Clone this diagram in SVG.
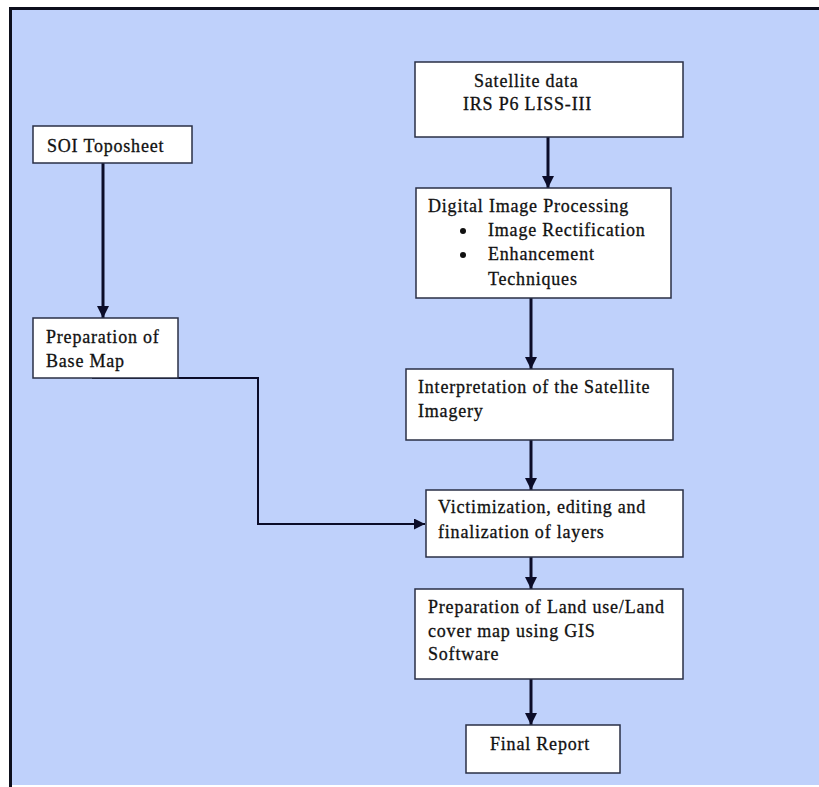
<svg xmlns="http://www.w3.org/2000/svg" width="819" height="787" viewBox="0 0 819 787">
<defs>
<style>
.box{fill:#ffffff;stroke:#2a2f45;stroke-width:1.5}
.t{font-family:"Liberation Serif","Times New Roman",serif;font-size:18px;letter-spacing:0.8px;fill:#111111;stroke:#111111;stroke-width:0.3}
.c{fill:none;stroke:#0b0c28;stroke-width:3}
.c2{fill:none;stroke:#0b0c28;stroke-width:2}
</style>
<marker id="ah" viewBox="0 0 10 10" refX="10" refY="5" markerWidth="4" markerHeight="4" markerUnits="strokeWidth" orient="auto">
<path d="M0,0 L10,5 L0,10 z" fill="#0b0c28"/>
</marker>
<marker id="ah2" viewBox="0 0 10 10" refX="10" refY="5" markerWidth="5.5" markerHeight="5.5" markerUnits="strokeWidth" orient="auto">
<path d="M0,0 L10,5 L0,10 z" fill="#0b0c28"/>
</marker>
</defs>
<rect x="0" y="0" width="819" height="787" fill="#ffffff"/>
<rect x="10" y="9" width="809" height="776" fill="#bfd1fb"/>
<path d="M10.5,787 L10.5,8.5 L819,8.5" fill="none" stroke="#0d0f1c" stroke-width="3"/>
<g id="connectors">
<line class="c" x1="548" y1="137" x2="548" y2="188" marker-end="url(#ah)"/>
<line class="c" x1="103" y1="163" x2="103" y2="318" marker-end="url(#ah)"/>
<line class="c" x1="531" y1="298" x2="531" y2="369" marker-end="url(#ah)"/>
<line class="c" x1="531" y1="440" x2="531" y2="490" marker-end="url(#ah)"/>
<path class="c2" d="M92,378 L258,378 L258,524 L425,524" marker-end="url(#ah2)"/>
<line class="c" x1="531" y1="557" x2="531" y2="589" marker-end="url(#ah)"/>
<line class="c" x1="531" y1="679" x2="531" y2="725" marker-end="url(#ah)"/>
</g>
<g id="n-satellite">
<rect class="box" x="415" y="62" width="268" height="75"/>
<text class="t" x="474" y="87">Satellite data</text>
<text class="t" x="463" y="110">IRS P6 LISS-III</text>
</g>
<g id="n-dip">
<rect class="box" x="416" y="188" width="255" height="110"/>
<text class="t" x="428" y="212">Digital Image Processing</text>
<circle cx="463" cy="231" r="3" fill="#111111"/>
<text class="t" x="488" y="236">Image Rectification</text>
<circle cx="463" cy="255" r="3" fill="#111111"/>
<text class="t" x="488" y="260">Enhancement</text>
<text class="t" x="488" y="285">Techniques</text>
</g>
<g id="n-soi">
<rect class="box" x="33" y="126" width="159" height="37"/>
<text class="t" x="47" y="152">SOI Toposheet</text>
</g>
<g id="n-basemap">
<rect class="box" x="33" y="318" width="145" height="60"/>
<text class="t" x="46" y="343">Preparation of</text>
<text class="t" x="46" y="367">Base Map</text>
</g>
<g id="n-interp">
<rect class="box" x="406" y="369" width="267" height="71"/>
<text class="t" x="418" y="393">Interpretation of the Satellite</text>
<text class="t" x="418" y="417">Imagery</text>
</g>
<g id="n-victim">
<rect class="box" x="426" y="490" width="257" height="67"/>
<text class="t" x="438" y="513">Victimization, editing and</text>
<text class="t" x="438" y="538">finalization of layers</text>
</g>
<g id="n-landuse">
<rect class="box" x="415" y="589" width="268" height="90"/>
<text class="t" x="428" y="613">Preparation of Land use/Land</text>
<text class="t" x="428" y="637">cover map using GIS</text>
<text class="t" x="428" y="660">Software</text>
</g>
<g id="n-final">
<rect class="box" x="466" y="725" width="154" height="48"/>
<text class="t" x="490" y="750">Final Report</text>
</g>
</svg>
